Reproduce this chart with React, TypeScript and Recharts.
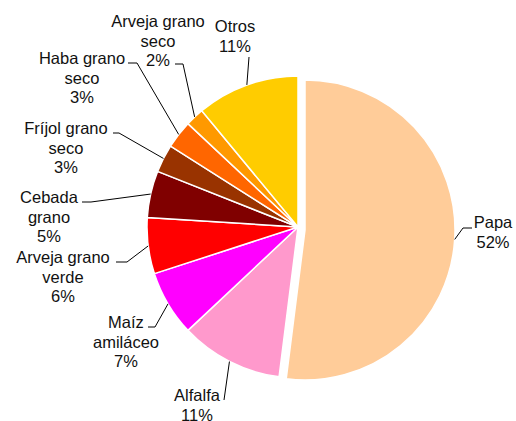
import React from "react";
import { PieChart, Pie, Cell } from "recharts";

const CATEGORIES = [
  "Papa",
  "Alfalfa",
  "Maíz amiláceo",
  "Arveja grano verde",
  "Cebada grano",
  "Fríjol grano seco",
  "Haba grano seco",
  "Arveja grano seco",
  "Otros",
];
const VALUES = [52, 11, 7, 6, 5, 3, 3, 2, 11];
const LABEL_LINES = [
  ["Papa"],
  ["Alfalfa"],
  ["Maíz", "amiláceo"],
  ["Arveja grano", "verde"],
  ["Cebada", "grano"],
  ["Fríjol grano", "seco"],
  ["Haba grano", "seco"],
  ["Arveja grano", "seco"],
  ["Otros"],
];
const COLORS = [
  "#FFCC99",
  "#FF99CC",
  "#FF00FF",
  "#FF0000",
  "#800000",
  "#993300",
  "#FF6600",
  "#FF9900",
  "#FFCC00",
];

// label placement: text block center x, first line center y, leader elbow (ex, ey), horizontal end hx
const LABEL_LAYOUT = [
  { tx: 493, ty: 222, ex: 463, ey: 228, hx: 472 },
  { tx: 197, ty: 395, ex: 224, ey: 400, hx: 224 },
  { tx: 126, ty: 322, ex: 155, ey: 327, hx: 148 },
  { tx: 63, ty: 257, ex: 127, ey: 262, hx: 116 },
  { tx: 49, ty: 197, ex: 91, ey: 202, hx: 82 },
  { tx: 66, ty: 128, ex: 119, ey: 133, hx: 113 },
  { tx: 82, ty: 58, ex: 137, ey: 63, hx: 128 },
  { tx: 158, ty: 21, ex: 183, ey: 64, hx: 175 },
  { tx: 235, ty: 26, ex: 249, ey: 57, hx: 249 },
];

const data = CATEGORIES.map((name, i) => ({ name, value: VALUES[i] }));
const RADIAN = Math.PI / 180;
const FONT = "'Liberation Sans', Arial, sans-serif";
const LINE_H = 19.5;

const makeLabel = (show: (i: number) => boolean) => (props: any) => {
  const { cx, cy, midAngle, outerRadius, index, percent } = props;
  if (!show(index)) return null;
  const L = LABEL_LAYOUT[index];
  const px = cx + outerRadius * Math.cos(-midAngle * RADIAN);
  const py = cy + outerRadius * Math.sin(-midAngle * RADIAN);
  const lines = [...LABEL_LINES[index], `${Math.round(percent * 100)}%`];
  return (
    <g key={`lbl-${index}`}>
      <polyline
        points={`${px},${py} ${L.ex},${L.ey} ${L.hx},${L.ey}`}
        fill="none"
        stroke="#000"
        strokeWidth={1}
      />
      <text
        x={L.tx}
        y={L.ty + 6}
        textAnchor="middle"
        fontFamily={FONT}
        fontSize={16.5}
        fill="#111"
      >
        {lines.map((ln, k) => (
          <tspan key={k} x={L.tx} y={L.ty + 6 + k * LINE_H}>
            {ln}
          </tspan>
        ))}
      </text>
    </g>
  );
};

export default function App() {
  return (
    <div style={{ position: "absolute", left: 0, top: 0, background: "#fff" }}>
      <PieChart
        width={516}
        height={421}
        margin={{ top: 0, right: 0, bottom: 0, left: 0 }}
      >
        <Pie
          data={data}
          dataKey="value"
          nameKey="name"
          cx={305}
          cy={230}
          outerRadius={150}
          startAngle={90}
          endAngle={-270}
          isAnimationActive={false}
          labelLine={false}
          label={makeLabel((i) => i === 0)}
        >
          {data.map((d, i) => (
            <Cell
              key={d.name}
              fill={i === 0 ? COLORS[i] : "transparent"}
              stroke={i === 0 ? "#fff" : "none"}
              strokeWidth={1.5}
            />
          ))}
        </Pie>
        <Pie
          data={data}
          dataKey="value"
          nameKey="name"
          cx={298}
          cy={227}
          outerRadius={151}
          startAngle={90}
          endAngle={-270}
          isAnimationActive={false}
          labelLine={false}
          label={makeLabel((i) => i !== 0)}
        >
          {data.map((d, i) => (
            <Cell
              key={d.name}
              fill={i === 0 ? "transparent" : COLORS[i]}
              stroke={i === 0 ? "none" : "#fff"}
              strokeWidth={1.5}
            />
          ))}
        </Pie>
      </PieChart>
    </div>
  );
}
